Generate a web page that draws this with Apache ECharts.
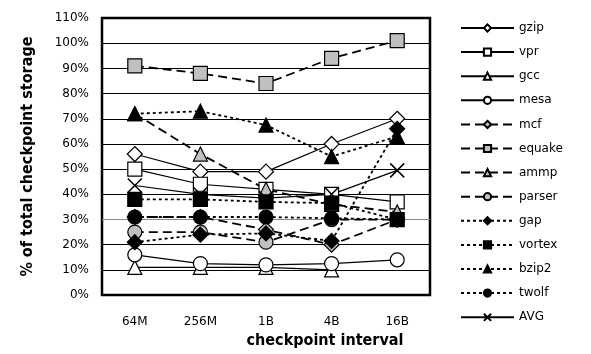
<!DOCTYPE html>
<html>
<head>
<meta charset="utf-8">
<script src="https://cdn.jsdelivr.net/npm/echarts@6/dist/echarts.min.js"></script>
<style>
  html, body { margin: 0; padding: 0; background: #fff; }
  #chart { width: 591px; height: 354px; }
</style>
</head>
<body>
<div id="chart"></div>
<script>
var categories = ['64M', '256M', '1B', '4B', '16B']
var yTicks = [0, 10, 20, 30, 40, 50, 60, 70, 80, 90, 100, 110]

var gzip = [56, 49, 49, 60, 70]
var vpr = [50, 44, 42, 40, 37]
var gcc = [11, 11, 11, 10, null]
var mesa = [16, 12.5, 12, 12.5, 14]
var mcf = [31, 31, 26, 20, 30]
var equake = [91, 88, 84, 94, 101]
var ammp = [72, 56, 42, 36, 33]
var parser = [25, 25, 21, 30, 30]
var gap = [21, 24, 24.5, 21.5, 66]
var vortex = [38, 38, 37, 36.5, 30]
var bzip2 = [72, 73, 67.5, 55, 63]
var twolf = [31, 31, 31, 30.5, 30]
var avg = [43.5, 40, 38.5, 40, 49.5]

var WHITE = '#ffffff', GRAY = '#c0c0c0', BLACK = '#000000'
var SOLID = 'solid', DASH = [9, 5], DOT = [3, 3]
var CROSS = 'path://M0,0L10,10M10,0L0,10'
var NAME_FONT = '"DejaVu Sans Condensed", "Liberation Sans", Arial, sans-serif'

// name, data, marker, fill, line type
var seriesDefs = [
    ['gzip', gzip, 'diamond', WHITE, SOLID],
    ['vpr', vpr, 'rect', WHITE, SOLID],
    ['gcc', gcc, 'triangle', WHITE, SOLID],
    ['mesa', mesa, 'circle', WHITE, SOLID],
    ['mcf', mcf, 'diamond', GRAY, DASH],
    ['equake', equake, 'rect', GRAY, DASH],
    ['ammp', ammp, 'triangle', GRAY, DASH],
    ['parser', parser, 'circle', GRAY, DASH],
    ['gap', gap, 'diamond', BLACK, DOT],
    ['vortex', vortex, 'rect', BLACK, DOT],
    ['bzip2', bzip2, 'triangle', BLACK, DOT],
    ['twolf', twolf, 'circle', BLACK, DOT],
    ['AVG', avg, CROSS, 'none', SOLID]
]

var gridColors = yTicks.map(v => v === 30 ? '#8a8a8a' : '#000')

var chart = echarts.init(document.getElementById('chart'), null, { renderer: 'canvas' })

chart.setOption({
    animation: false,
    backgroundColor: '#fff',
    grid: {
        left: 102, right: 161, top: 18, bottom: 51,
        show: true, borderColor: '#000', borderWidth: 2.5, backgroundColor: 'transparent'
    },
    legend: {
        orient: 'vertical',
        left: 455,
        top: 17,
        itemWidth: 53,
        itemHeight: 9,
        itemGap: 12.1,
        textStyle: { fontFamily: 'DejaVu Sans', fontSize: 12, color: '#000' },
        data: seriesDefs.map(d => d[0])
    },
    xAxis: {
        type: 'category',
        data: categories,
        boundaryGap: true,
        axisLine: { show: false },
        axisTick: { show: false },
        axisLabel: { margin: 21, fontFamily: 'DejaVu Sans', fontSize: 12, color: '#000' },
        name: 'checkpoint interval',
        nameLocation: 'middle',
        nameGap: 37,
        nameTextStyle: {
            fontFamily: NAME_FONT, fontWeight: 'bold', fontSize: 16, color: '#000',
            padding: [0, 0, 0, 118]
        }
    },
    yAxis: {
        type: 'value',
        min: 0, max: 110, interval: 10,
        axisLine: { show: false },
        axisTick: { show: false },
        axisLabel: { margin: 13, formatter: '{value}%', fontFamily: 'DejaVu Sans', fontSize: 12, color: '#000' },
        splitLine: { lineStyle: { color: gridColors, width: 1 } },
        name: '% of total checkpoint storage',
        nameLocation: 'middle',
        nameGap: 66,
        nameTextStyle: { fontFamily: NAME_FONT, fontWeight: 'bold', fontSize: 16, color: '#000' }
    },
    series: seriesDefs.map(d => ({
        name: d[0],
        type: 'line',
        data: d[1],
        symbol: d[2],
        symbolSize: d[2] === 'diamond' ? 15 : 14,
        showAllSymbol: true,
        connectNulls: false,
        lineStyle: { color: '#000', width: d[4] === SOLID ? 1.2 : 1.8, type: d[4] },
        itemStyle: { color: d[3], borderColor: '#000', borderWidth: d[2] === CROSS ? 1.5 : 1.2 },
        emphasis: { disabled: true }
    }))
})
</script>
</body>
</html>
